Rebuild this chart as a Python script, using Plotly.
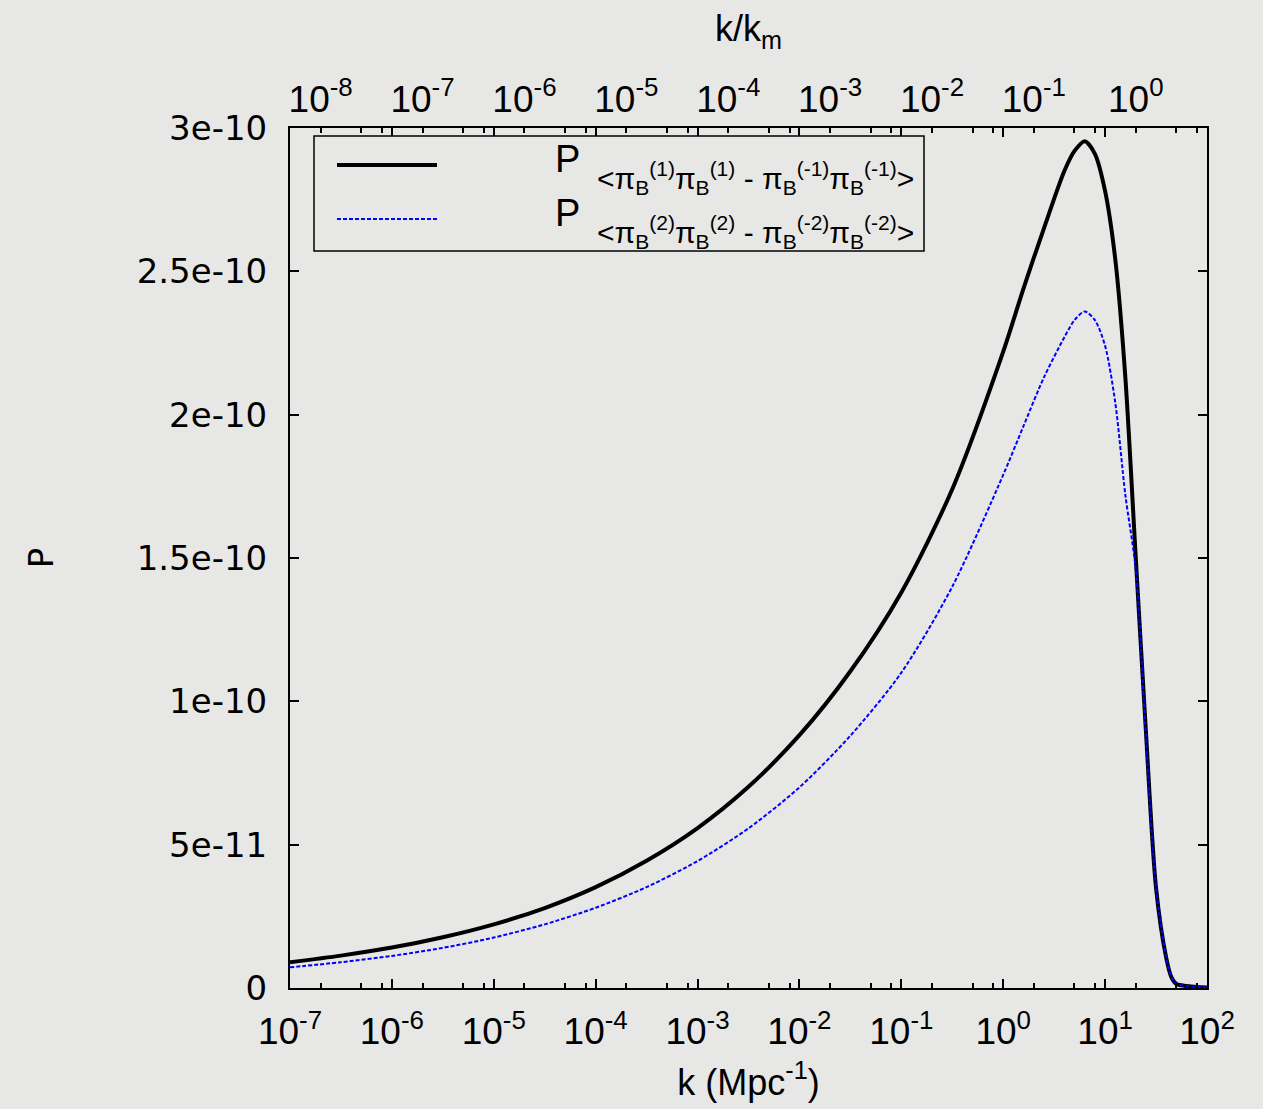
import plotly.graph_objects as go

# ---- data ----
k_vals = [1e-7, 3.16e-7, 1e-6, 3.16e-6, 1e-5, 3.16e-5, 1e-4, 3.16e-4, 1e-3, 3.16e-3,
          1e-2, 3.16e-2, 1e-1, 3.16e-1, 1.0, 1.58, 2.51, 3.98, 5.01, 6.31, 7.94, 10.0,
          12.6, 15.8, 20.0, 25.1, 31.6, 39.8, 44.7, 50.1, 63.1, 79.4, 100.0]
# P in units of 1e-12
P1_e12 = [9.0, 11.3, 14.1, 17.7, 22.2, 27.9, 35.2, 44.4, 55.8, 70.2,
          88.2, 110.5, 138.0, 174.0, 222.0, 244.0, 265.0, 285.0, 292.0, 295.4, 291.0, 278.0,
          254.0, 213.0, 150.0, 90.0, 35.0, 10.5, 3.8, 1.4, 0.7, 0.35, 0.2]
P2_e12 = [7.2, 9.0, 11.2, 14.0, 17.6, 22.2, 28.0, 35.2, 44.3, 55.7,
          70.0, 88.0, 110.0, 140.0, 179.0, 196.0, 213.0, 227.0, 233.0, 236.0, 233.0, 224.0,
          204.0, 172.0, 146.0, 88.0, 35.0, 10.5, 3.8, 1.4, 0.7, 0.35, 0.2]
UNIT = 1e-12
K_M = 20.0  # k_m in Mpc^-1 (top axis is k/k_m)

x_major = [1e-7, 1e-6, 1e-5, 1e-4, 1e-3, 1e-2, 1e-1, 1e0, 1e1, 1e2]
x_major_text = ["10<sup>-7</sup>", "10<sup>-6</sup>", "10<sup>-5</sup>", "10<sup>-4</sup>",
                "10<sup>-3</sup>", "10<sup>-2</sup>", "10<sup>-1</sup>", "10<sup>0</sup>",
                "10<sup>1</sup>", "10<sup>2</sup>"]
x_minor_mult = [2, 5, 8]
top_major = [1e-8, 1e-7, 1e-6, 1e-5, 1e-4, 1e-3, 1e-2, 1e-1, 1e0]
top_major_text = ["10<sup>-8</sup>", "10<sup>-7</sup>", "10<sup>-6</sup>", "10<sup>-5</sup>",
                  "10<sup>-4</sup>", "10<sup>-3</sup>", "10<sup>-2</sup>", "10<sup>-1</sup>",
                  "10<sup>0</sup>"]
y_ticks = [0, 5e-11, 1e-10, 1.5e-10, 2e-10, 2.5e-10, 3e-10]
y_tick_text = ["0", "5e-11", "1e-10", "1.5e-10", "2e-10", "2.5e-10", "3e-10"]

legend1_sub = ("&lt;π<sub>B</sub><sup>(1)</sup>π<sub>B</sub><sup>(1)</sup> - "
               "π<sub>B</sub><sup>(-1)</sup>π<sub>B</sub><sup>(-1)</sup>&gt;")
legend2_sub = ("&lt;π<sub>B</sub><sup>(2)</sup>π<sub>B</sub><sup>(2)</sup> - "
               "π<sub>B</sub><sup>(-2)</sup>π<sub>B</sub><sup>(-2)</sup>&gt;")

P1 = [v * UNIT for v in P1_e12]
P2 = [v * UNIT for v in P2_e12]
x_minor = [m * d for d in x_major[:-1] for m in x_minor_mult]

BG = "#e7e8e6"
FONT_X = "Liberation Sans, Arial, sans-serif"
FONT_Y = "DejaVu Sans, sans-serif"

fig = go.Figure()
fig.add_trace(go.Scatter(x=k_vals, y=P1, mode="lines",
                         line=dict(color="black", width=4, shape="spline", smoothing=0.8),
                         showlegend=False))
fig.add_trace(go.Scatter(x=k_vals, y=P2, mode="lines",
                         line=dict(color="#0000ff", width=2, dash="4px,2px",
                                   shape="spline", smoothing=0.8),
                         showlegend=False))

fig.update_layout(
    template="none",
    width=1263, height=1109,
    margin=dict(l=290, r=56, t=128, b=121, pad=0),
    paper_bgcolor=BG, plot_bgcolor=BG,
    showlegend=False,
    xaxis=dict(
        type="log", range=[-7, 2], automargin=False,
        tickmode="array", tickvals=x_major, ticktext=x_major_text,
        ticks="inside", ticklen=9, tickwidth=2, tickcolor="black",
        minor=dict(tickmode="array", tickvals=x_minor, ticks="inside", ticklen=5,
                   tickwidth=1.5, tickcolor="black", showgrid=False),
        showline=True, linewidth=2, linecolor="black", mirror="ticks",
        showgrid=False, zeroline=False,
        tickfont=dict(family=FONT_X, size=37, color="black"),
        ticklabelstandoff=10,
        title=dict(text="k (Mpc<sup>-1</sup>)", font=dict(family=FONT_X, size=36, color="black"),
                   standoff=18),
    ),
    xaxis2=dict(
        type="log", overlaying="x", side="top", anchor="y", automargin=False,
        range=[-7 - 1.30103, 2 - 1.30103],
        tickmode="array", tickvals=top_major, ticktext=top_major_text,
        ticks="", showline=False, showgrid=False, zeroline=False,
        tickfont=dict(family=FONT_X, size=37, color="black"),
        ticklabelstandoff=8,
        title=dict(text="k/k<sub>m</sub>", font=dict(family=FONT_X, size=36, color="black"),
                   standoff=20),
    ),
    yaxis=dict(
        range=[0, 3e-10], automargin=False,
        tickmode="array", tickvals=y_ticks, ticktext=y_tick_text,
        ticks="inside", ticklen=9, tickwidth=2, tickcolor="black",
        showline=True, linewidth=2, linecolor="black", mirror="ticks",
        showgrid=False, zeroline=False,
        tickfont=dict(family=FONT_Y, size=34, color="black"),
        ticklabelstandoff=14,
        title=dict(text="P", font=dict(family=FONT_Y, size=34, color="black"), standoff=73),
    ),
)

# invisible trace bound to the top axis (k/k_m)
fig.add_trace(go.Scatter(x=[k / K_M for k in k_vals], y=P1, xaxis="x2", yaxis="y",
                         mode="lines", line=dict(width=0), opacity=0, hoverinfo="skip",
                         showlegend=False))

# ---- legend (key box, like the original) ----
def px_x(px):
    return (px - 290) / 917.0

def px_y(py):
    return (988 - py) / 860.0

fig.add_shape(type="rect", xref="paper", yref="paper",
              x0=px_x(314), x1=px_x(924), y0=px_y(251), y1=px_y(136),
              line=dict(color="black", width=1.5), fillcolor=BG, layer="above")
fig.add_shape(type="line", xref="paper", yref="paper",
              x0=px_x(337), x1=px_x(437), y0=px_y(165), y1=px_y(165),
              line=dict(color="black", width=4), layer="above")
fig.add_shape(type="line", xref="paper", yref="paper",
              x0=px_x(337), x1=px_x(437), y0=px_y(219), y1=px_y(219),
              line=dict(color="#0000ff", width=2, dash="4px,2px"), layer="above")

for row_y, sub in [(159, legend1_sub), (213, legend2_sub)]:
    fig.add_annotation(xref="paper", yref="paper", x=px_x(553), y=px_y(row_y),
                       xanchor="left", yanchor="middle", showarrow=False,
                       text="P", font=dict(family=FONT_X, size=38, color="black"))
    fig.add_annotation(xref="paper", yref="paper", x=px_x(916), y=px_y(row_y + 19),
                       xanchor="right", yanchor="middle", showarrow=False,
                       text=sub, font=dict(family=FONT_X, size=30, color="black"))

fig.write_html("out.html")
